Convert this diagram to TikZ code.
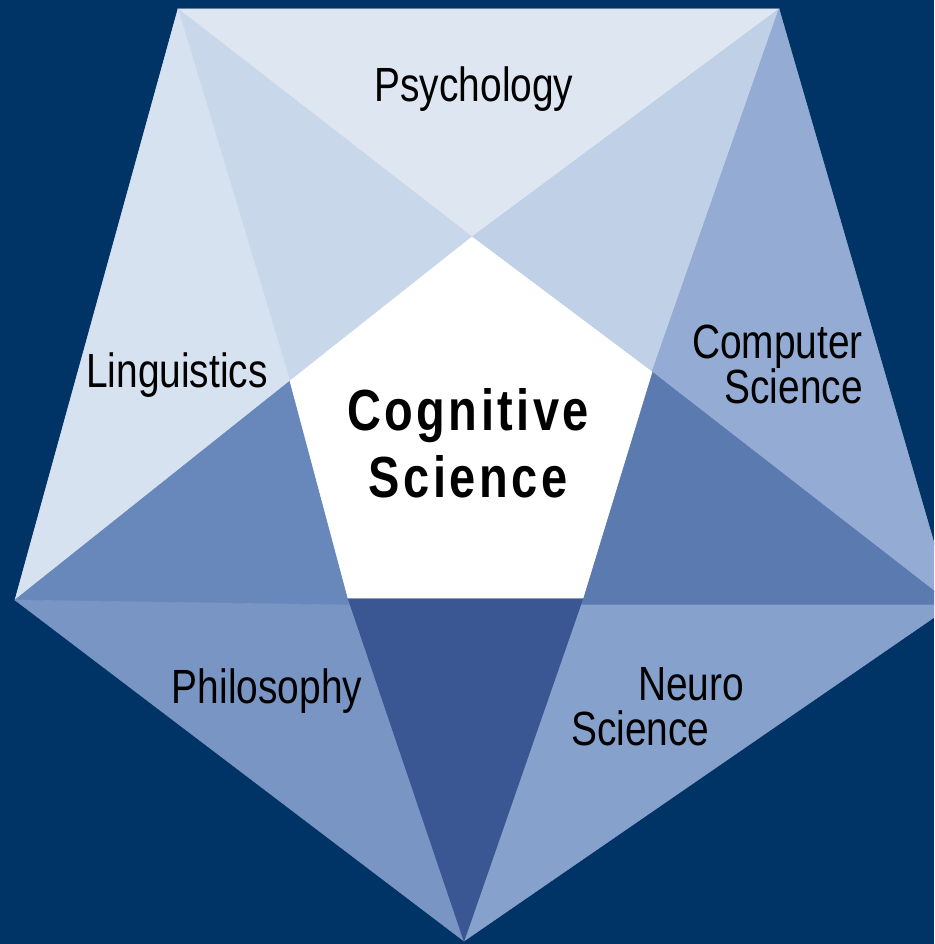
\documentclass[tikz,border=0pt]{standalone}
\usepackage{fontspec}
\usetikzlibrary{positioning}
\newfontfamily\fieldfont[FakeStretch=0.81]{Liberation Sans}
\newfontfamily\corefont[FakeStretch=0.81,LetterSpace=6]{Liberation Sans}
\definecolor{navy}{RGB}{0,51,102}
\definecolor{psychblue}{RGB}{222,230,242}
\definecolor{upleftblue}{RGB}{201,215,234}
\definecolor{lingblue}{RGB}{215,226,240}
\definecolor{uprightblue}{RGB}{192,208,231}
\definecolor{csblue}{RGB}{148,172,212}
\definecolor{rightblue}{RGB}{91,122,176}
\definecolor{neuroblue}{RGB}{134,161,203}
\definecolor{deepblue}{RGB}{58,87,148}
\definecolor{philblue}{RGB}{120,149,196}
\definecolor{leftblue}{RGB}{104,136,187}
\tikzset{facet/.style={fill=#1,draw=#1,line width=0.6pt,line join=round},
     field/.style={
       font=\fieldfont\fontsize{48}{45}\selectfont,
       inner sep=0,
       text=black
     },
     core/.style={
       font=\corefont\bfseries\fontsize{58}{67}\selectfont,
       inner sep=0,
       align=center,
       text=black
     }
}

\begin{document}
\begin{tikzpicture}[x=1pt,y=-1pt]
    \fill[navy] (0,0) rectangle (934,944);
    \useasboundingbox (0,0) rectangle (934,944);
    \clip (0,0) rectangle (934,944);

    \coordinate (otl) at (178,9);
    \coordinate (otr) at (779,9);
    \coordinate (or) at (952,605);
    \coordinate (ob) at (464,941);
    \coordinate (ol) at (15,600);
    \coordinate (itop) at (472,237);
    \coordinate (ir) at (652,372);
    \coordinate (ibr) at (583,598);
    \coordinate (ibl) at (348,598);
    \coordinate (il) at (290,381);
    \coordinate (pl) at (350,605);
    \coordinate (pr) at (581,605);

    \path[facet=psychblue] (otl) -- (otr) -- (itop) -- cycle;
    \path[facet=upleftblue] (otl) -- (itop) -- (il) -- cycle;
    \path[facet=lingblue] (otl) -- (il) -- (ol) -- cycle;
    \path[facet=uprightblue] (itop) -- (otr) -- (ir) -- cycle;
    \path[facet=csblue] (ir) -- (otr) -- (or) -- cycle;
    \path[facet=leftblue] (ol) -- (il) -- (ibl) -- (pl) -- cycle;
    \path[facet=philblue] (ol) -- (pl) -- (ob) -- cycle;
    \path[facet=rightblue] (ibr) -- (ir) -- (or) -- (pr) -- cycle;
    \path[facet=neuroblue] (pr) -- (or) -- (ob) -- cycle;
    \path[facet=deepblue] (ibl) -- (ibr) -- (ob) -- cycle;
    \path[facet=white] (itop) -- (ir) -- (ibr) -- (ibl) -- (il) -- cycle;

    \node[field,anchor=base] (psychology) at (474,102) {Psychology};
    \node[field,anchor=base] (linguistics) at (177,387) {Linguistics};
    \node[field,anchor=base] (philosophy) at (267,703) {Philosophy};
    \node[field,align=right,anchor=base east] (compsci) at (863,403) {Computer\\Science};
    \node[field,align=left,anchor=base west] (neurosci) at (571,745) {\hspace*{67pt}Neuro\\Science};
    \node[core,anchor=base] (cogsci) at (468,497) {Cognitive\\Science};
\end{tikzpicture}
\end{document}
